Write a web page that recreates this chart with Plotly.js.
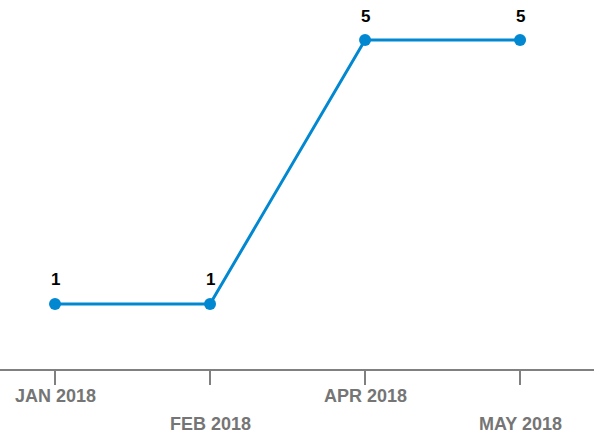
<!DOCTYPE html>
<html><head><meta charset="utf-8">
<script src="https://cdn.plot.ly/plotly-3.0.1.min.js"></script>
<style>html,body{margin:0;padding:0;background:#fff}#c{width:594px;height:433px}</style>
</head><body><div id="c"></div>
<script>
const categories = ["JAN 2018", "FEB 2018", "APR 2018", "MAY 2018"];
const values = [1, 1, 5, 5];
const tickLabels = ["JAN 2018", "FEB 2018", "APR 2018", "MAY 2018"];

const xIdx = categories.map((c, i) => i);
const annotations = [];
values.forEach((v, i) => {
  annotations.push({x: i, y: v, xref: 'x', yref: 'y', text: String(v), showarrow: false,
    yshift: 24, font: {family: 'Liberation Sans, Arial, sans-serif', size: 17, color: '#000', weight: 'bold'}});
});
tickLabels.forEach((t, i) => {
  annotations.push({x: i, y: 0, xref: 'x', yref: 'paper', text: t, showarrow: false,
    yanchor: 'middle', yshift: i % 2 === 0 ? -27 : -55, borderpad: 0,
    font: {family: 'Liberation Sans, Arial, sans-serif', size: 18, color: '#757575', weight: 'bold'}});
});

Plotly.newPlot('c', [{
  x: xIdx, y: values, type: 'scatter', mode: 'lines+markers',
  line: {color: '#0288d1', width: 3},
  marker: {color: '#0288d1', size: 12},
  hoverinfo: 'none'
}], {
  width: 594, height: 433,
  margin: {l: 0, r: 0, t: 0, b: 64},
  paper_bgcolor: '#fff', plot_bgcolor: '#fff',
  showlegend: false,
  xaxis: {range: [-0.355, 3.477], tickvals: xIdx, ticktext: xIdx.map(() => ''),
    showgrid: false, zeroline: false, showline: true, linecolor: '#808080', linewidth: 2,
    ticks: 'outside', ticklen: 14, tickwidth: 2, tickcolor: '#808080'},
  yaxis: {range: [0.015, 5.606], visible: false, showgrid: false, zeroline: false},
  annotations: annotations
}, {displayModeBar: false, staticPlot: true});
</script></body></html>
